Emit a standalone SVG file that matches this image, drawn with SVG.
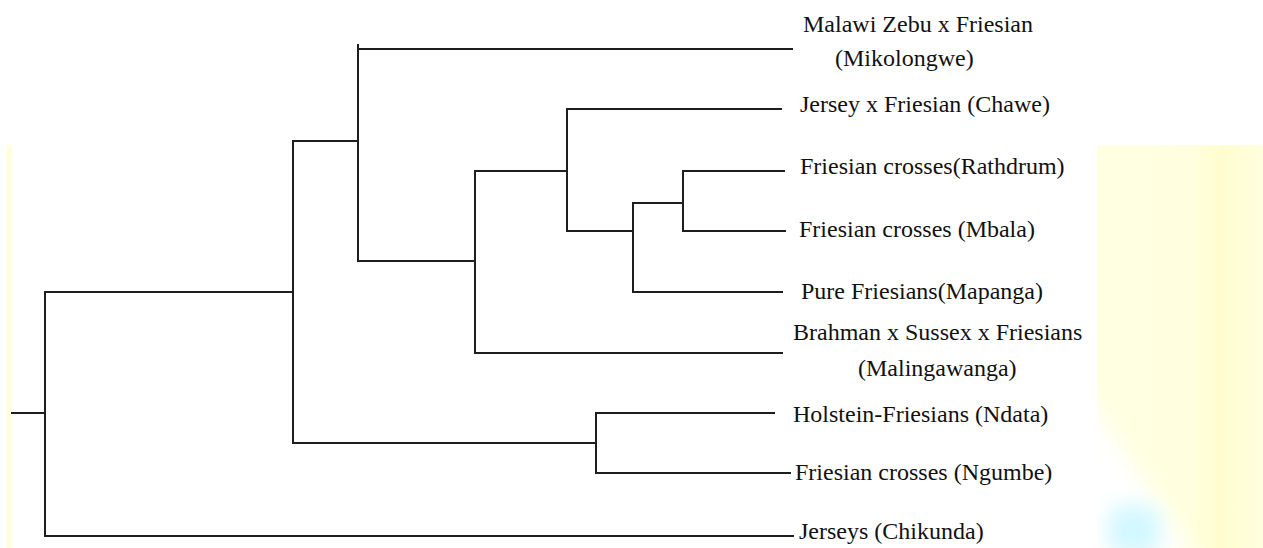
<svg xmlns="http://www.w3.org/2000/svg" width="1263" height="548" viewBox="0 0 1263 548">
  <defs>
    <style>
      .lbl { font-family: "Liberation Serif", "Times New Roman", serif; font-size: 24px; fill: #111; }
      .edge { fill: none; stroke: #1e1e1e; stroke-width: 2; stroke-linecap: square; }
    </style>
    <linearGradient id="wash" x1="0" y1="0" x2="1" y2="0">
      <stop offset="0" stop-color="#FFFFE2"/>
      <stop offset="0.55" stop-color="#FFFFE0"/>
      <stop offset="0.75" stop-color="#FFFDCF"/>
      <stop offset="1" stop-color="#FFFFDF"/>
    </linearGradient>
    <filter id="soft" x="-50%" y="-50%" width="200%" height="200%">
      <feGaussianBlur stdDeviation="10"/>
    </filter>
    <clipPath id="panelClip">
      <rect x="1097" y="145" width="166" height="403"/>
    </clipPath>
  </defs>

  <rect width="1263" height="548" fill="#ffffff"/>

  <!-- background wash panels -->
  <g id="backdrop">
    <rect x="6" y="145" width="6" height="403" fill="#FFFFE0"/>
    <g clip-path="url(#panelClip)">
      <rect x="1097" y="145" width="166" height="403" fill="url(#wash)"/>
      <polygon points="1080,385 1080,560 1195,560" fill="#ffffff" filter="url(#soft)"/>
      <rect x="1108" y="505" width="52" height="50" rx="16" fill="#D2F8FF" filter="url(#soft)"/>
    </g>
  </g>

  <!-- tree branches -->
  <g id="connectors" class="edge">
    <path d="M12,413 H45"/>
    <path d="M45,292 V536 M45,292 H293 M45,536 H793"/>
    <path d="M293,141 V443 M293,141 H358 M293,443 H596"/>
    <path d="M358,45 V261 M358,49 H792 M358,261 H475"/>
    <path d="M475,171 V353 M475,171 H567 M475,353 H782"/>
    <path d="M567,109 V231 M567,109 H781 M567,231 H633"/>
    <path d="M633,203 V292 M633,203 H683 M633,292 H782"/>
    <path d="M683,171 V231 M683,171 H784 M683,231 H785"/>
    <path d="M596,413 V473 M596,413 H774 M596,473 H790"/>
  </g>

  <!-- leaf labels -->
  <g id="mikolongwe">
    <text class="lbl" x="803" y="32">Malawi Zebu x Friesian</text>
    <text class="lbl" x="835" y="66">(Mikolongwe)</text>
  </g>
  <g id="chawe">
    <text class="lbl" x="800" y="112">Jersey x Friesian (Chawe)</text>
  </g>
  <g id="rathdrum">
    <text class="lbl" x="800" y="174">Friesian crosses(Rathdrum)</text>
  </g>
  <g id="mbala">
    <text class="lbl" x="799" y="237">Friesian crosses (Mbala)</text>
  </g>
  <g id="mapanga">
    <text class="lbl" x="801" y="299">Pure Friesians(Mapanga)</text>
  </g>
  <g id="malingawanga">
    <text class="lbl" x="793" y="340">Brahman x Sussex x Friesians</text>
    <text class="lbl" x="858" y="376">(Malingawanga)</text>
  </g>
  <g id="ndata">
    <text class="lbl" x="793" y="422">Holstein-Friesians (Ndata)</text>
  </g>
  <g id="ngumbe">
    <text class="lbl" x="795" y="480">Friesian crosses (Ngumbe)</text>
  </g>
  <g id="chikunda">
    <text class="lbl" x="799" y="539">Jerseys (Chikunda)</text>
  </g>
</svg>
